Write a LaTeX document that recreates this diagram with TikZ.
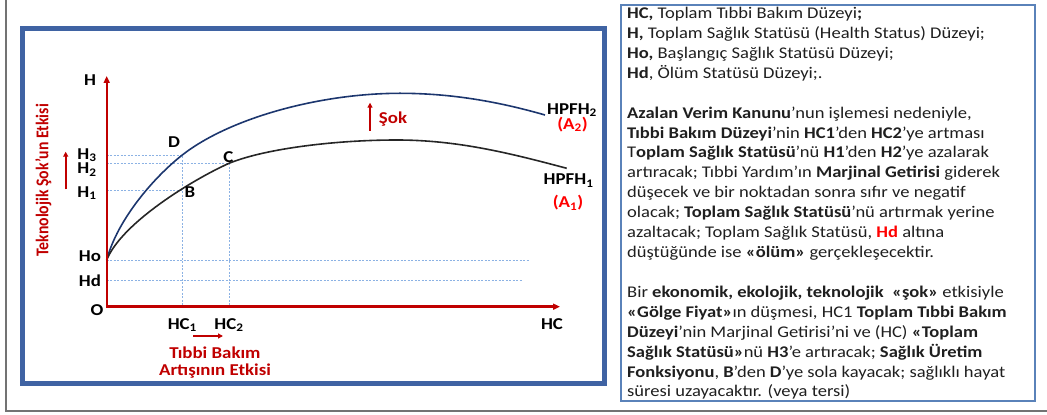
\documentclass[tikz,border=0pt]{standalone}
\usepackage{fontspec}
\usepackage{graphicx}
\setmainfont{Carlito}[FakeStretch=1.137]
\newfontfamily\uprightfont{Carlito}
\usetikzlibrary{positioning,arrows.meta}

\definecolor{axisred}{RGB}{192,0,0}
\definecolor{brightred}{RGB}{255,0,0}
\definecolor{frameblue}{RGB}{63,99,163}
\definecolor{boxblue}{RGB}{90,130,185}
\definecolor{navy}{RGB}{28,54,110}
\definecolor{gridblue}{RGB}{140,178,228}

\begin{document}
\begin{tikzpicture}[x=1pt, y=1pt,
  lab/.style={font=\bfseries\fontsize{16.6}{17}\selectfont, inner sep=0pt},
  redlab/.style={lab, text=axisred},
  axisline/.style={draw=axisred, line width=2.4pt,
                   {Triangle[length=7pt,width=6pt]}-{Triangle[length=7pt,width=6pt]}},
  redarr/.style={draw=axisred, line width=1.6pt, -{Triangle[length=5pt,width=5pt]}},
  guide/.style={draw=gridblue, line width=0.7pt, dash pattern=on 2pt off 1.5pt},
  hpfh/.style={line width=1.6pt},
  notes/.style={inner sep=0pt, align=left, text=black!88,
                font=\fontsize{16.3}{19.92}\selectfont}
]
\useasboundingbox (0,0) rectangle (1047,415);

% frames
\draw[black!55, line width=1.2pt] (6,415) -- (6,4) -- (1047,4);
\draw[frameblue, line width=5pt] (22,31) rectangle (604,386.5);
\draw[boxblue, line width=1.2pt] (621,14) rectangle (1035,410);

% points of the diagram
\coordinate (O)     at (106.7,108.3);
\coordinate (Htop)  at (106.7,339);
\coordinate (HCend) at (560,108.3);
\coordinate (Ho)    at (106.7,155);
\coordinate (Hd)    at (106.7,134.3);
\coordinate (Hoend) at (529,155);
\coordinate (Hdend) at (522,134.3);
\coordinate (H3)    at (106.7,260);
\coordinate (H2)    at (106.7,251.7);
\coordinate (H1)    at (106.7,225);
\coordinate (D)     at (182.3,260);
\coordinate (C)     at (229,251.7);
\coordinate (B)     at (182.3,225);
\coordinate (HC1)   at (182.3,108.3);
\coordinate (HC2)   at (229,108.3);
\coordinate (top2)  at (400,321.7);
\coordinate (end2)  at (545,300);
\coordinate (top1)  at (396.7,275);
\coordinate (end1)  at (566.7,246.7);

% guide lines
\draw[guide] (Ho) -- (Hoend);
\draw[guide] (Hd) -- (Hdend);
\draw[guide] (H3) -- (D) -- (HC1);
\draw[guide] (H2) -- (C) -- (HC2);
\draw[guide] (H1) -- (B);

% production curves
\draw[hpfh, navy] (Ho) .. controls (117.5,196) and (154.7,238.4) .. (D)
  .. controls (229.6,297) and (320,321.7) .. (top2)
  .. controls (450,321.7) and (497,313.8) .. (end2);
\draw[hpfh, black!85] (Ho) .. controls (121.5,192) and (192.6,235.3) .. (C)
  .. controls (266.1,266.7) and (336.7,275) .. (top1)
  .. controls (456.7,275) and (508.7,262.2) .. (end1);

% axes
\draw[axisline] (Htop) -- (O) -- (HCend);

% axis labels
\node[lab] (lH)   at (90,335)     {H};
\node[lab] (lO)   at (97,105)     {O};
\node[lab] (lHo)  at (90,159)     {Ho};
\node[lab] (lHd)  at (90,134.3)   {Hd};
\node[lab] (lH3)  at (87,260)     {H\textsubscript{3}};
\node[lab] (lH2)  at (87,245.5)   {H\textsubscript{2}};
\node[lab] (lH1)  at (87,221.7)   {H\textsubscript{1}};
\node[lab] (lD)   at (174,273.3)  {D};
\node[lab] (lC)   at (228.3,257.5) {C};
\node[lab] (lB)   at (190,222.7)  {B};
\node[lab] (lHC1) at (182.3,90)   {HC\textsubscript{1}};
\node[lab] (lHC2) at (229,90)     {HC\textsubscript{2}};
\node[lab] (lHC)  at (552,91)     {HC};
\node[lab] (lP2)  at (572,305)    {HPFH\textsubscript{2}};
\node[lab, text=brightred] (lA2) at (572.5,290.7) {(A\textsubscript{2})};
\node[lab] (lP1)  at (568.6,234.3) {HPFH\textsubscript{1}};
\node[lab, text=brightred] (lA1) at (568,212.3) {(A\textsubscript{1})};

% shock and effect labels
\node[redlab] (lsok) at (393,296.3) {Şok};
\node[redlab, align=center] (ltib) at (215,52.2) {Tıbbi Bakım\\Artışının Etkisi};
\node[redlab, rotate=90, font=\uprightfont\bfseries\fontsize{15.8}{16}\selectfont] (ltek)
  at (43.3,234.5) {\scalebox{1}[1.137]{Teknolojik Şok’un Etkisi}};

\coordinate (sokA) at (370,284);
\coordinate (sokB) at (370,312.3);
\coordinate (tekA) at (65.7,225.7);
\coordinate (tekB) at (65.7,263.3);
\coordinate (tibA) at (193,79);
\coordinate (tibB) at (223,79);
\draw[redarr] (sokA) -- (sokB);
\draw[redarr] (tekA) -- (tekB);
\draw[redarr] (tibA) -- (tibB);

% explanation
\node[notes, anchor=north west] (notes) at (627,409.7) {%
\rule{0pt}{13pt}\textbf{HC,} Toplam Tıbbi Bakım Düzeyi\textbf{;}\\
\textbf{H,} Toplam Sağlık Statüsü (Health Status) Düzeyi;\\
\textbf{Ho,} Başlangıç Sağlık Statüsü Düzeyi;\\
\textbf{Hd}, Ölüm Statüsü Düzeyi;.\\[19.92pt]
\textbf{Azalan Verim Kanunu}’nun işlemesi nedeniyle,\\
\textbf{Tıbbi Bakım Düzeyi}’nin \textbf{HC1}’den \textbf{HC2}’ye artması\\
T\textbf{oplam Sağlık Statüsü}’nü \textbf{H1}’den \textbf{H2}’ye azalarak\\
artıracak; Tıbbi Yardım’ın \textbf{Marjinal Getirisi} giderek\\
düşecek ve bir noktadan sonra sıfır ve negatif\\
olacak; \textbf{Toplam Sağlık Statüsü}’nü artırmak yerine\\
azaltacak; Toplam Sağlık Statüsü, \textcolor{brightred}{\textbf{Hd}} altına\\
düştüğünde ise \textbf{«ölüm»} gerçekleşecektir.\\[19.92pt]
Bir \textbf{ekonomik, ekolojik, teknolojik\ \ «şok»} etkisiyle\\
\textbf{«Gölge Fiyat»}ın düşmesi, HC1 \textbf{Toplam Tıbbi Bakım}\\
\textbf{Düzeyi}’nin Marjinal Getirisi’ni ve (HC) \textbf{«Toplam}\\
\textbf{Sağlık Statüsü»}nü \textbf{H3}’e artıracak; \textbf{Sağlık Üretim}\\
\textbf{Fonksiyonu}, \textbf{B}’den \textbf{D}’ye sola kayacak; sağlıklı hayat\\
süresi uzayacaktır. (veya tersi)};
\end{tikzpicture}
\end{document}
